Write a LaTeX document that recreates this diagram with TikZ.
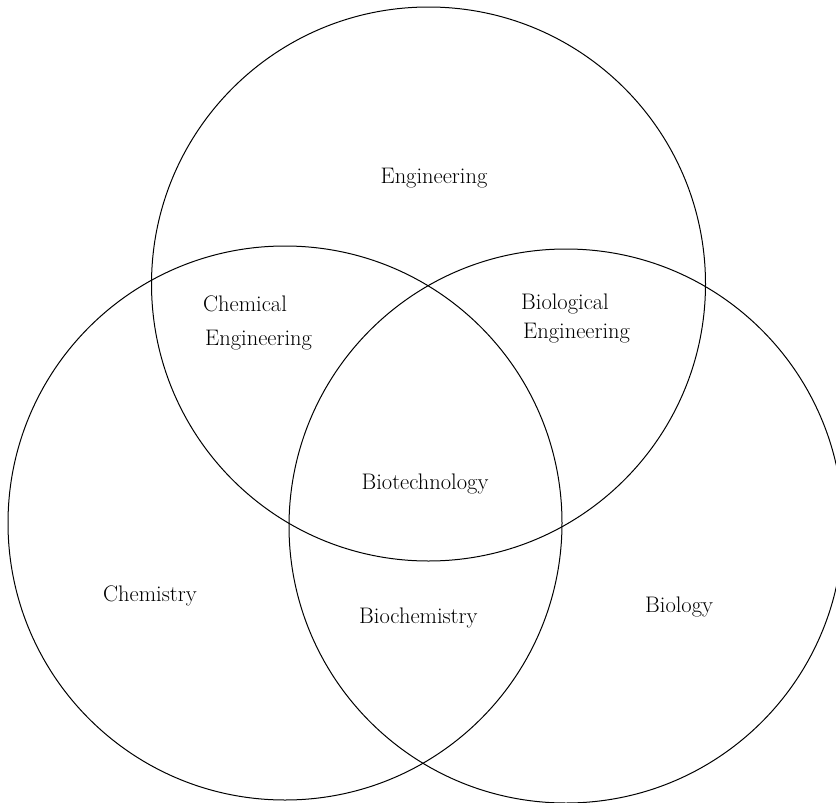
\documentclass[tikz,border=0pt]{standalone}
\begin{document}
\begin{tikzpicture}[x=1pt,y=-1pt,
  ring/.style={draw=black,line width=1pt,circle,minimum size=554pt,inner sep=0pt},
  lbl/.style={font=\fontsize{22.5}{34}\selectfont,inner sep=0pt,align=left}]
\useasboundingbox (0,0) rectangle (836,803);
\clip (0,0) rectangle (836,803);
\node[ring] (eng) at (428.5,284) {};
\node[ring] (chem) at (285,523) {};
\node[ring] (bio) at (566,526) {};
\node[lbl,anchor=base] (tEng) at (434,183) {Engineering};
\node[lbl,anchor=base west] (tChemEng1) at (203,311) {Chemical};
\node[lbl,anchor=base west] (tChemEng2) at (205,345) {Engineering};
\node[lbl,anchor=base west] (tBioEng1) at (521,309) {Biological};
\node[lbl,anchor=base west] (tBioEng2) at (523,338) {Engineering};
\node[lbl,anchor=base] (tBiotech) at (425,489) {Biotechnology};
\node[lbl,anchor=base west] (tChemistry) at (103,601) {Chemistry};
\node[lbl,anchor=base west] (tBiochem) at (359,623) {Biochemistry};
\node[lbl,anchor=base west] (tBiology) at (645,612) {Biology};
\end{tikzpicture}
\end{document}
